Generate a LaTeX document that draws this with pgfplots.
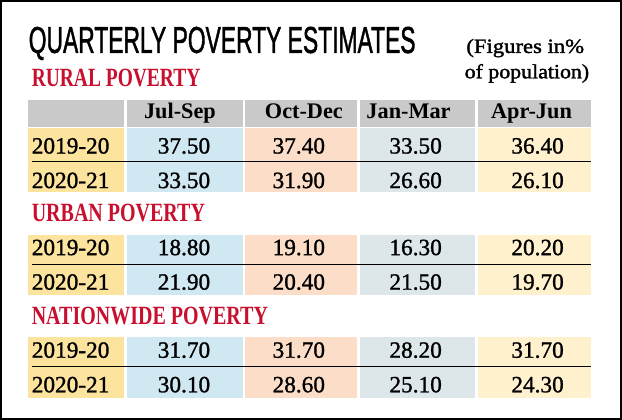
\documentclass[border=0pt]{standalone}
\usepackage{pgfplots}
\pgfplotsset{compat=1.18}
\usepackage{pgfplotstable}
\usepackage{fontspec}
\setmainfont{Liberation Serif}
\newfontfamily\titlefont[FakeBold=1.6]{Liberation Sans}
\newfontfamily\numfont[FakeBold=1.2]{Liberation Serif}
\newfontfamily\notefont[FakeBold=1.6]{Liberation Serif}
\definecolor{hdrgray}{HTML}{C9C9C9}
\definecolor{yrcol}{HTML}{FCE49E}
\definecolor{cblue}{HTML}{CFE8F2}
\definecolor{cpeach}{HTML}{FCDEC8}
\definecolor{cgblue}{HTML}{DDE7EA}
\definecolor{cpale}{HTML}{FFF1CE}
\definecolor{hred}{HTML}{C8102E}

\pgfplotstableread{
x y label
186 156 37.50
299 156 37.40
414 156 33.50
534 156 36.40
186 190 33.50
299 190 31.90
414 190 26.60
534 190 26.10
186 256 18.80
299 256 19.10
414 256 16.30
534 256 20.20
186 290 21.90
299 290 20.40
414 290 21.50
534 290 19.70
186 357 31.70
299 357 31.70
414 357 28.20
534 357 31.70
186 391 30.10
299 391 28.60
414 391 25.10
534 391 24.30
}\values

\pgfplotstableread{
x y label
36 156 2019-20
36 190 2020-21
36 256 2019-20
36 290 2020-21
36 357 2019-20
36 391 2020-21
}\years

\pgfplotstableread{
x y label
182 122 Jul-Sep
304 122 Oct-Dec
407 122 Jan-Mar
528 122 Apr-Jun
}\headers

\newcommand{\cell}[5]{\addplot[fill=#5, draw=none] coordinates {(#1,#3)(#2,#3)(#2,#4)(#1,#4)} -- cycle;}
\newcommand{\rowline}[1]{\addplot[black, line width=1.1bp] coordinates {(36,#1)(587,#1)};}

\begin{document}
\begin{tikzpicture}
\begin{axis}[
  width=622bp, height=425bp, scale only axis,
  xmin=0, xmax=622, ymin=0, ymax=425, y dir=reverse,
  hide axis, clip=false,
]
% header
\cell{32}{127}{103}{130}{hdrgray}
\cell{130}{244}{103}{130}{hdrgray}
\cell{246}{356}{103}{130}{hdrgray}
\cell{359}{472}{103}{130}{hdrgray}
\cell{475}{587}{103}{130}{hdrgray}
% rural
\cell{32}{127}{131}{194}{yrcol}
\cell{130}{244}{131}{194}{cblue}
\cell{246}{356}{131}{194}{cpeach}
\cell{359}{472}{131}{194}{cgblue}
\cell{475}{587}{131}{194}{cpale}
% urban
\cell{32}{127}{236}{295}{yrcol}
\cell{130}{244}{236}{295}{cblue}
\cell{246}{356}{236}{295}{cpeach}
\cell{359}{472}{236}{295}{cgblue}
\cell{475}{587}{236}{295}{cpale}
% nationwide
\cell{32}{127}{337}{397}{yrcol}
\cell{130}{244}{337}{397}{cblue}
\cell{246}{356}{337}{397}{cpeach}
\cell{359}{472}{337}{397}{cgblue}
\cell{475}{587}{337}{397}{cpale}
\rowline{164}
\rowline{265}
\rowline{366}
% frame
\addplot[black, line width=2.2bp] coordinates {(6,6)(616,6)(616,417)(6,417)} -- cycle;

\addplot[draw=none, mark=none, nodes near coords, point meta=explicit symbolic,
  nodes near coords style={anchor=base, inner sep=0pt, text=black, font=\numfont\fontsize{23}{23}\selectfont}]
  table[x=x, y=y, meta=label] {\values};
\addplot[draw=none, mark=none, nodes near coords, point meta=explicit symbolic,
  nodes near coords style={anchor=base west, inner sep=0pt, text=black, font=\numfont\fontsize{23}{23}\selectfont}]
  table[x=x, y=y, meta=label] {\years};
\addplot[draw=none, mark=none, nodes near coords, point meta=explicit symbolic,
  nodes near coords style={anchor=base, inner sep=0pt, text=black, font=\bfseries\fontsize{22}{22}\selectfont}]
  table[x=x, y=y, meta=label] {\headers};

\node[anchor=base west, inner sep=0pt] at (axis cs:33,57) {\scalebox{0.61}[1]{\titlefont\fontsize{37}{37}\selectfont QUARTERLY POVERTY ESTIMATES}};
\node[anchor=base east, inner sep=0pt] at (axis cs:580,57) {\scalebox{1.12}[1]{\notefont\fontsize{20}{20}\selectfont (Figures in\%}};
\node[anchor=base east, inner sep=0pt] at (axis cs:585,82) {\scalebox{1.08}[1]{\notefont\fontsize{20}{20}\selectfont of population)}};
\node[anchor=base west, inner sep=0pt, text=hred] at (axis cs:36,90) {\scalebox{0.74}[1]{\bfseries\fontsize{26}{26}\selectfont RURAL POVERTY}};
\node[anchor=base west, inner sep=0pt, text=hred] at (axis cs:36,223) {\scalebox{0.76}[1]{\bfseries\fontsize{26}{26}\selectfont URBAN POVERTY}};
\node[anchor=base west, inner sep=0pt, text=hred] at (axis cs:36,324) {\scalebox{0.76}[1]{\bfseries\fontsize{26}{26}\selectfont NATIONWIDE POVERTY}};
\end{axis}
\end{tikzpicture}
\end{document}
